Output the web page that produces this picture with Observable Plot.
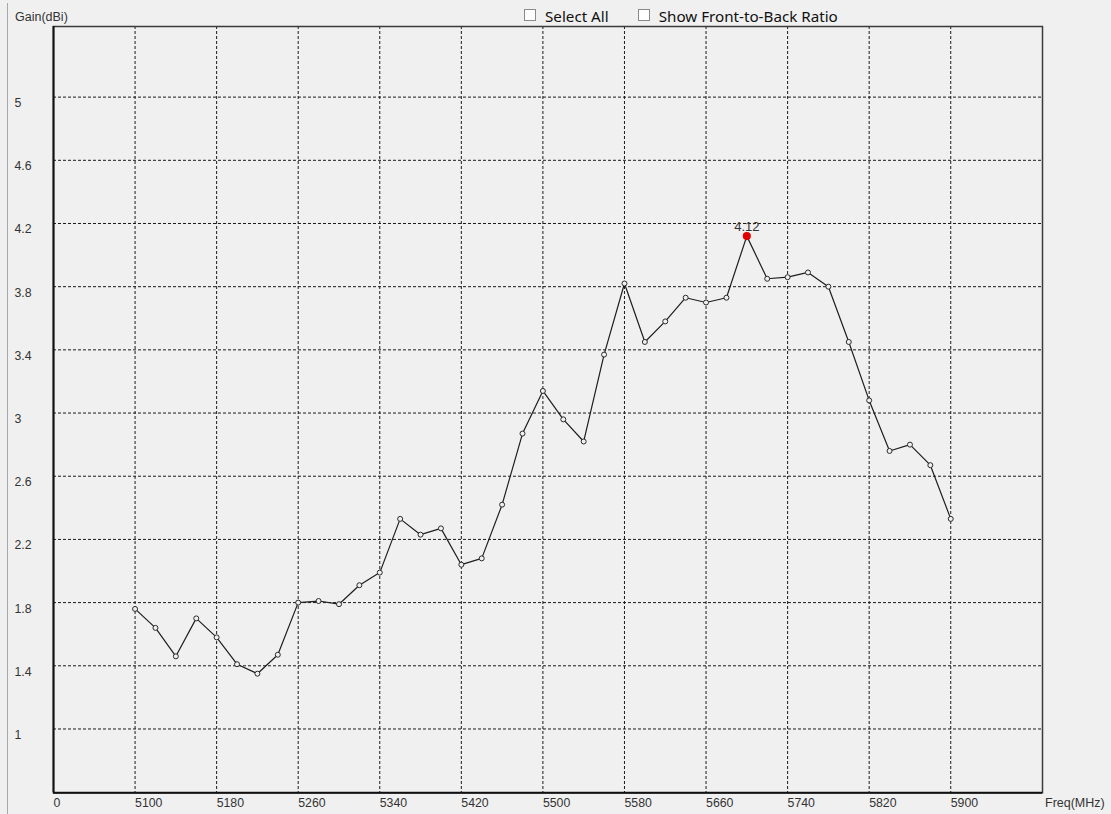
<!DOCTYPE html>
<html>
<head>
<meta charset="utf-8">
<script src="https://cdn.jsdelivr.net/npm/d3@7"></script>
<script src="https://cdn.jsdelivr.net/npm/@observablehq/plot@0.6"></script>
<style>
  html, body { margin: 0; padding: 0; background: #f0f0f0; }
  body { width: 1111px; height: 814px; position: relative; overflow: hidden; font-family: "Liberation Sans", Arial, sans-serif; }
  #chart { position: absolute; left: 0; top: 0; }
  .panel-line { position: absolute; left: 7px; top: 3px; width: 1px; height: 811px; background: #a8a8a8; }
  .controls { position: absolute; top: 6px; left: 524px; height: 20px; font-family: "Noto Sans", "Open Sans", sans-serif; font-size: 15.2px; line-height: 20px; color: #111; display: flex; align-items: center; white-space: nowrap; }
  .cb { display: inline-block; width: 10px; height: 10px; border: 1px solid #8a8a8a; background: #ffffff; margin-right: 9px; box-sizing: content-box; position: relative; top: -1px; }
  .item { display: flex; align-items: center; }
  .axis-title { position: absolute; font-family: "Liberation Sans", Arial, sans-serif; font-size: 12.5px; color: #333; white-space: nowrap; }
</style>
</head>
<body>
<div class="panel-line"></div>
<div id="chart"></div>
<div class="controls">
  <span class="item"><span class="cb"></span><span>Select All</span></span>
  <span class="item" style="margin-left:29px"><span class="cb"></span><span>Show Front-to-Back Ratio</span></span>
</div>
<div class="axis-title" style="left:15px; top:10px;">Gain(dBi)</div>
<div class="axis-title" style="left:1045px; top:796px;">Freq(MHz)</div>
<script>
// Frequencies (MHz)
const freqs = [5100, 5120, 5140, 5160, 5180, 5200, 5220, 5240, 5260, 5280,
               5300, 5320, 5340, 5360, 5380, 5400, 5420, 5440, 5460, 5480,
               5500, 5520, 5540, 5560, 5580, 5600, 5620, 5640, 5660, 5680,
               5700, 5720, 5740, 5760, 5780, 5800, 5820, 5840, 5860, 5880,
               5900];
// Gain (dBi)
const gains = [1.76, 1.64, 1.46, 1.70, 1.58, 1.41, 1.35, 1.47, 1.80, 1.81,
               1.79, 1.91, 1.99, 2.33, 2.23, 2.27, 2.04, 2.08, 2.42, 2.87,
               3.14, 2.96, 2.82, 3.37, 3.82, 3.45, 3.58, 3.73, 3.70, 3.73,
               4.12, 3.85, 3.86, 3.89, 3.80, 3.45, 3.08, 2.76, 2.80, 2.67,
               2.33];
// Axes
const xDomain = [5020, 5990];
const yDomain = [0.596, 5.447];
const xGridTicks = [5100, 5180, 5260, 5340, 5420, 5500, 5580, 5660, 5740, 5820, 5900];
const xTickValues = [5020, 5100, 5180, 5260, 5340, 5420, 5500, 5580, 5660, 5740, 5820, 5900];
const xTickLabels = ["0", "5100", "5180", "5260", "5340", "5420", "5500", "5580", "5660", "5740", "5820", "5900"];
const yTicks = [1, 1.4, 1.8, 2.2, 2.6, 3, 3.4, 3.8, 4.2, 4.6, 5];

const data = freqs.map((f, i) => ({freq: f, gain: gains[i]}));
const peak = data.reduce((a, b) => (b.gain > a.gain ? b : a));

const dash = "3,2";
const chart = Plot.plot({
  width: 1111,
  height: 814,
  marginLeft: 53,
  marginRight: 69,
  marginTop: 26,
  marginBottom: 21.7,
  style: {background: "transparent", fontFamily: "'Liberation Sans', Arial, sans-serif", fontSize: "12px", color: "#333", overflow: "visible"},
  x: {domain: xDomain},
  y: {domain: yDomain},
  marks: [
    Plot.gridX(xGridTicks, {stroke: "#1a1a1a", strokeOpacity: 1, strokeWidth: 1, strokeDasharray: dash}),
    Plot.gridY(yTicks, {stroke: "#1a1a1a", strokeOpacity: 1, strokeWidth: 1, strokeDasharray: dash}),
    Plot.frame({stroke: "#3a3a3a", strokeWidth: 1.5}),
    Plot.ruleX([xDomain[0]], {stroke: "#111", strokeWidth: 2}),
    Plot.ruleY([yDomain[0]], {stroke: "#111", strokeWidth: 2}),
    Plot.axisX(xTickValues, {
      tickSize: 0, tickPadding: 5, textAnchor: "start", dx: 0,
      tickFormat: (d) => xTickLabels[xTickValues.indexOf(d)],
      label: null, fill: "#333", fontSize: 12.3
    }),
    Plot.axisY(yTicks, {
      tickSize: 0, tickPadding: 39, textAnchor: "start", dy: 6,
      tickFormat: (d) => String(d), label: null, fill: "#333", fontSize: 12.3
    }),
    Plot.line(data, {x: "freq", y: "gain", stroke: "#1e1e1e", strokeWidth: 1.2}),
    Plot.dot(data, {x: "freq", y: "gain", r: 2.5, stroke: "#2a2a2a", strokeWidth: 1, fill: "#f0f0f0"}),
    Plot.dot([peak], {x: "freq", y: "gain", r: 3.3, fill: "#e00000", stroke: "#e00000"}),
    Plot.text([peak], {x: "freq", y: "gain", text: (d) => d.gain.toFixed(2), dy: -9, fill: "#333", fontSize: 13})
  ]
});
document.getElementById("chart").appendChild(chart);
</script>
</body>
</html>
